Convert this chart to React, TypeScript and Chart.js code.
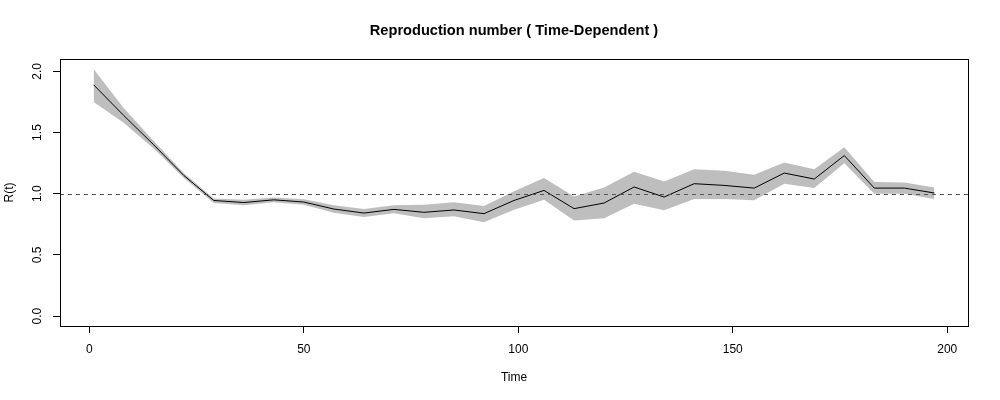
import React, { useEffect, useRef } from "react";
import { Chart, registerables } from "chart.js";

Chart.register(...registerables);

const TIMES = [1, 8, 15, 22, 29, 36, 43, 50, 57, 64, 71, 78, 85, 92, 99, 106, 113, 120, 127, 134, 141, 148, 155, 162, 169, 176, 183, 190, 197];
const R_MEAN = [1.89, 1.64, 1.40, 1.15, 0.945, 0.928, 0.95, 0.932, 0.875, 0.842, 0.872, 0.848, 0.867, 0.837, 0.945, 1.027, 0.878, 0.924, 1.055, 0.973, 1.082, 1.068, 1.046, 1.169, 1.12, 1.312, 1.046, 1.046, 1.006];
const R_UPPER = [2.02, 1.70, 1.43, 1.17, 0.96, 0.95, 0.97, 0.955, 0.905, 0.875, 0.905, 0.91, 0.93, 0.90, 1.02, 1.128, 0.978, 1.05, 1.18, 1.10, 1.20, 1.187, 1.155, 1.255, 1.20, 1.38, 1.095, 1.092, 1.05];
const R_LOWER = [1.75, 1.58, 1.37, 1.13, 0.925, 0.905, 0.93, 0.91, 0.845, 0.81, 0.84, 0.80, 0.815, 0.766, 0.87, 0.951, 0.782, 0.80, 0.918, 0.864, 0.957, 0.957, 0.946, 1.082, 1.046, 1.25, 1.0, 1.0, 0.957];

const X_TICKS = [0, 50, 100, 150, 200];
const Y_TICKS = [0, 0.5, 1, 1.5, 2];
const Y_TICK_LABELS = ["0.0", "0.5", "1.0", "1.5", "2.0"];
const REF_LINE = 1;
const X_MIN = -6.84;
const X_MAX = 204.84;
const Y_MIN = -0.081;
const Y_MAX = 2.101;

const TITLE = "Reproduction number ( Time-Dependent )";
const X_TITLE = "Time";
const Y_TITLE = "R(t)";
const FONT = "'Liberation Sans', Arial, sans-serif";

const rPlot = {
  id: "rPlot",
  afterDatasetsDraw(chart: any) {
    const { ctx, chartArea: a, scales } = chart;
    const py = Math.round(scales.y.getPixelForValue(REF_LINE)) + 0.5;
    ctx.save();
    ctx.strokeStyle = "#555555";
    ctx.lineWidth = 1;
    ctx.setLineDash([4, 4]);
    ctx.beginPath();
    ctx.moveTo(a.left, py);
    ctx.lineTo(a.right, py);
    ctx.stroke();
    ctx.restore();
  },
  afterDraw(chart: any) {
    const { ctx, chartArea: a, scales } = chart;
    ctx.save();
    ctx.strokeStyle = "#000";
    ctx.lineWidth = 1;
    ctx.strokeRect(a.left + 0.5, a.top + 0.5, a.right - a.left, a.bottom - a.top);
    ctx.fillStyle = "#000";
    ctx.font = `12px ${FONT}`;
    ctx.textAlign = "center";
    ctx.textBaseline = "middle";
    Y_TICKS.forEach((v, i) => {
      const py = scales.y.getPixelForValue(v);
      ctx.save();
      ctx.translate(38, py);
      ctx.rotate(-Math.PI / 2);
      ctx.fillText(Y_TICK_LABELS[i], 0, 0);
      ctx.restore();
    });
    ctx.save();
    ctx.translate(10, (a.top + a.bottom) / 2);
    ctx.rotate(-Math.PI / 2);
    ctx.fillText(Y_TITLE, 0, 0);
    ctx.restore();
    ctx.fillText(X_TITLE, (a.left + a.right) / 2, 378);
    ctx.font = `bold 14.6px ${FONT}`;
    ctx.fillText(TITLE, (a.left + a.right) / 2, 31);
    ctx.restore();
  },
};

export default function App() {
  const ref = useRef<HTMLCanvasElement | null>(null);
  useEffect(() => {
    if (!ref.current) return;
    const pts = (vals: number[]) => TIMES.map((t, i) => ({ x: t, y: vals[i] }));
    const chart = new Chart(ref.current, {
      type: "line",
      data: {
        datasets: [
          {
            label: "upper",
            data: pts(R_UPPER),
            borderWidth: 0,
            borderColor: "rgba(0,0,0,0)",
            backgroundColor: "#bebebe",
            pointRadius: 0,
            fill: "+1",
            tension: 0,
            order: 2,
          },
          {
            label: "lower",
            data: pts(R_LOWER),
            borderWidth: 0,
            borderColor: "rgba(0,0,0,0)",
            pointRadius: 0,
            fill: false,
            tension: 0,
            order: 2,
          },
          {
            label: "R",
            data: pts(R_MEAN),
            borderWidth: 1,
            borderColor: "#000",
            pointRadius: 0,
            fill: false,
            tension: 0,
            order: 0,
          },
        ],
      },
      plugins: [rPlot],
      options: {
        animation: false,
        responsive: true,
        maintainAspectRatio: false,
        devicePixelRatio: 1,
        layout: { padding: { left: 0, top: 59, right: 32, bottom: 0 } },
        plugins: { legend: { display: false }, title: { display: false }, tooltip: { enabled: false } },
        scales: {
          x: {
            type: "linear",
            min: X_MIN,
            max: X_MAX,
            afterBuildTicks: (s: any) => {
              s.ticks = X_TICKS.map((v) => ({ value: v }));
            },
            afterFit: (s: any) => {
              s.height = 74;
            },
            grid: { drawOnChartArea: false, drawTicks: true, tickLength: 7, color: "#000" },
            border: { display: true, color: "#000" },
            ticks: {
              color: "#000",
              font: { family: FONT, size: 12 },
              padding: 9,
              maxRotation: 0,
              callback: (v: any) => String(v),
            },
          },
          y: {
            type: "linear",
            min: Y_MIN,
            max: Y_MAX,
            afterBuildTicks: (s: any) => {
              s.ticks = Y_TICKS.map((v) => ({ value: v }));
            },
            afterFit: (s: any) => {
              s.width = 60;
            },
            grid: { drawOnChartArea: false, drawTicks: true, tickLength: 7, color: "#000" },
            border: { display: true, color: "#000" },
            ticks: { display: false },
          },
        },
      },
    });
    return () => chart.destroy();
  }, []);
  return (
    <div style={{ position: "fixed", left: 0, top: 0, width: 1000, height: 400, background: "#fff" }}>
      <canvas ref={ref} />
    </div>
  );
}
